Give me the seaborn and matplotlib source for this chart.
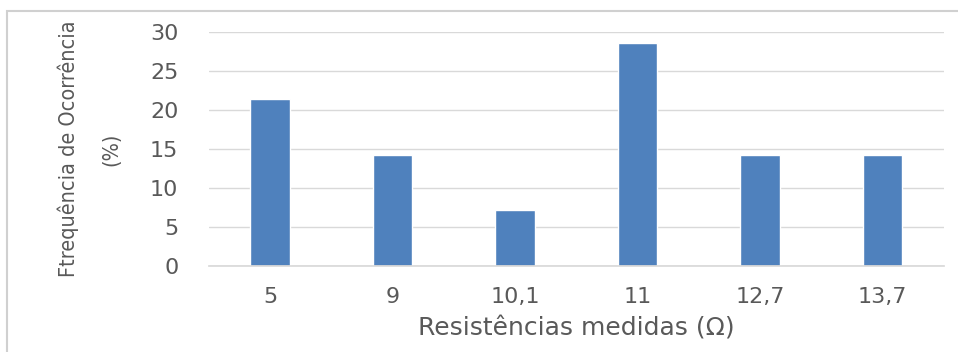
import matplotlib
matplotlib.use("Agg")
import matplotlib.pyplot as plt
from matplotlib.patches import Rectangle
import pandas as pd
import seaborn as sns

# resistance values (category labels) and occurrence frequency in %
resistencias = ["5", "9", "10,1", "11", "12,7", "13,7"]
frequencia = [21.43, 14.29, 7.14, 28.57, 14.29, 14.29]
yticks = [0, 5, 10, 15, 20, 25, 30]

df = pd.DataFrame({"res": resistencias, "freq": frequencia})

sns.set_theme(style="white")
plt.rcParams["font.family"] = ["DejaVu Sans"]

fig = plt.figure(figsize=(9.58, 3.52), dpi=100)
ax = fig.add_axes([0.218, 0.244, 0.767, 0.665])

sns.barplot(data=df, x="res", y="freq", order=resistencias, color="#4f81bd",
            saturation=1, width=0.32, ax=ax)

ax.set_ylim(0, 30)
ax.set_yticks(yticks)
ax.set_yticklabels([str(v) for v in yticks])
ax.yaxis.grid(True, color="#d9d9d9", linewidth=1)
ax.set_axisbelow(True)
for s in ["top", "right", "left"]:
    ax.spines[s].set_visible(False)
ax.spines["bottom"].set_color("#d9d9d9")
ax.tick_params(axis="both", length=0, labelsize=16, colors="#595959")
ax.tick_params(axis="x", pad=15)
ax.tick_params(axis="y", pad=22)

ax.set_xlabel("Resistências medidas (Ω)", fontsize=18, color="#595959", labelpad=7)
ax.set_ylabel("Ftrequência de Ocorrência\n(%)", fontsize=15.5, color="#595959",
              fontstretch="condensed", linespacing=2.4)
ax.yaxis.set_label_coords(-0.119, 0.5)

# outer chart frame, light grey
fig.patches.append(Rectangle((7 / 958, -0.1), 1.2, 1 - 11 / 352 + 0.1,
                             transform=fig.transFigure, fill=False,
                             edgecolor="#d0d0d0", linewidth=1.5))

fig.savefig("out.png", dpi=100)
